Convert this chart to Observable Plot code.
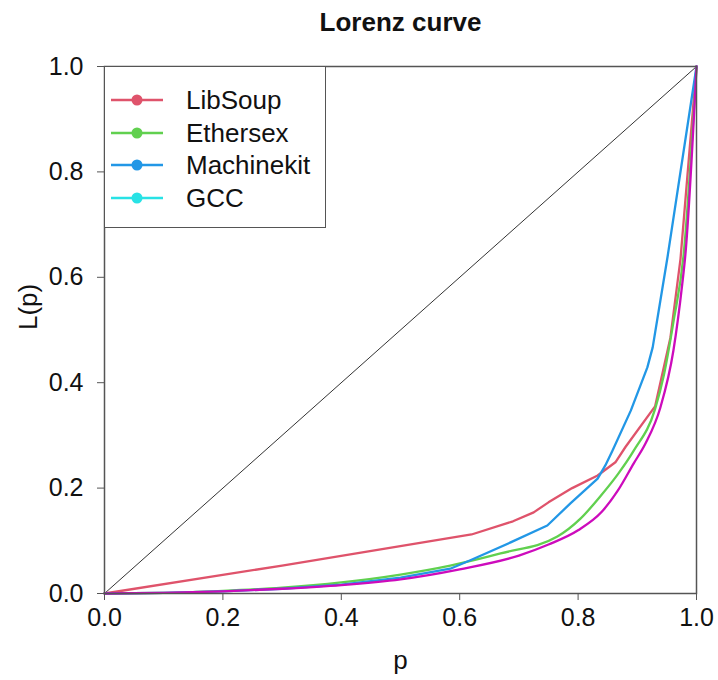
<!DOCTYPE html>
<html>
<head>
<meta charset="utf-8">
<script src="https://cdn.jsdelivr.net/npm/d3@7"></script>
<script src="https://cdn.jsdelivr.net/npm/@observablehq/plot@0.6"></script>
<style>
  html, body { margin: 0; padding: 0; background: white; }
  #wrap { position: relative; width: 718px; height: 680px; }
  #legend {
    position: absolute; left: 104px; top: 66px; width: 222px; height: 162px;
    border: 1.5px solid #555; background: white; box-sizing: border-box;
    font-family: "Liberation Sans", Arial, sans-serif; font-size: 26px; color: #111;
  }
  .item { position: absolute; left: 0; height: 30px; }
  .item svg { position: absolute; left: 5px; top: 0; }
  .item span { position: absolute; left: 81px; top: 0; line-height: 30px; white-space: nowrap; }
</style>
</head>
<body>
<div id="wrap"></div>
<script>
// ---- data ----
const seriesNames = ["LibSoup", "Ethersex", "Machinekit", "GCC"];
const legendColors = ["#DF536B", "#61D04F", "#2297E6", "#28E2E5"];
const lineColors = ["#DF536B", "#61D04F", "#2297E6", "#CD0BBC"];

const pLibSoup = [0, 0.3, 0.62, 0.69, 0.725, 0.75, 0.79, 0.833, 0.863, 0.88, 0.93, 0.956, 0.973, 1];
const LLibSoup = [0, 0.053, 0.112, 0.137, 0.154, 0.173, 0.2, 0.224, 0.249, 0.278, 0.355, 0.486, 0.635, 1];

const pEthersex = [0, 0.1, 0.2, 0.3, 0.4, 0.5, 0.584, 0.669, 0.765, 0.804, 0.838, 0.867, 0.894, 0.93, 0.945, 0.961, 0.978, 1];
const LEthersex = [0, 0.001, 0.005, 0.011, 0.021, 0.036, 0.053, 0.076, 0.108, 0.142, 0.185, 0.226, 0.271, 0.35, 0.415, 0.515, 0.64, 1];

const pMachinekit = [0, 0.1, 0.2, 0.3, 0.4, 0.5, 0.584, 0.618, 0.686, 0.748, 0.787, 0.833, 0.846, 0.858, 0.889, 0.917, 0.926, 0.939, 0.951, 1];
const LMachinekit = [0, 0.001, 0.004, 0.009, 0.017, 0.03, 0.047, 0.063, 0.097, 0.129, 0.171, 0.218, 0.243, 0.271, 0.347, 0.429, 0.467, 0.556, 0.638, 1];

const pGCC = [0, 0.1, 0.2, 0.3, 0.4, 0.5, 0.6, 0.7, 0.75, 0.8, 0.84, 0.867, 0.894, 0.914, 0.939, 0.961, 0.976, 0.981, 1];
const LGCC = [0, 0.001, 0.004, 0.009, 0.016, 0.027, 0.046, 0.072, 0.093, 0.12, 0.155, 0.195, 0.247, 0.285, 0.353, 0.461, 0.588, 0.64, 1];

const pDiag = [0, 1];
const LDiag = [0, 1];

const xTicks = [0, 0.2, 0.4, 0.6, 0.8, 1.0];
const yTicks = [0, 0.2, 0.4, 0.6, 0.8, 1.0];

const titleText = "Lorenz curve";
const xLabel = "p";
const yLabel = "L(p)";

// ---- build ----
const pAll = [pLibSoup, pEthersex, pMachinekit, pGCC];
const LAll = [LLibSoup, LEthersex, LMachinekit, LGCC];
const curves = ["linear", "monotone-x", "linear", "monotone-x"];
const rows = seriesNames.flatMap((s, k) => pAll[k].map((p, i) => ({series: s, p, L: LAll[k][i]})));
const diag = pDiag.map((p, i) => ({p, L: LDiag[i]}));
const fmt = d3.format(".1f");

const chart = Plot.plot({
  width: 718,
  height: 680,
  marginLeft: 104,
  marginRight: 22,
  marginTop: 66,
  marginBottom: 87,
  style: {fontFamily: "'Liberation Sans', Arial, sans-serif", fontSize: "25px", background: "white", color: "#111"},
  x: {domain: [0, 1]},
  y: {domain: [0, 1]},
  color: {domain: seriesNames, range: lineColors},
  marks: [
    Plot.line(diag, {x: "p", y: "L", stroke: "#333", strokeWidth: 1}),
    ...seriesNames.map((s, k) =>
      Plot.line(rows.filter(d => d.series === s), {x: "p", y: "L", stroke: "series", strokeWidth: 2.3, curve: curves[k]})
    ),
    Plot.frame({stroke: "#555", strokeWidth: 1.5}),
    Plot.axisX({ticks: xTicks, tickSize: 7, tickPadding: 8, tickFormat: fmt, label: null, fontSize: 25, stroke: "#555"}),
    Plot.axisY({ticks: yTicks, tickSize: 7, tickPadding: 14, tickFormat: fmt, label: null, fontSize: 25, stroke: "#555"}),
    Plot.text([titleText], {frameAnchor: "top", dy: -44, lineAnchor: "middle", fontWeight: "bold", fontSize: 26, fill: "#111"}),
    Plot.text([xLabel], {frameAnchor: "bottom", dy: 67, lineAnchor: "middle", fontSize: 26, fill: "#111"}),
    Plot.text([yLabel], {frameAnchor: "left", dx: -76, rotate: -90, fontSize: 26, fill: "#111"})
  ]
});
const wrap = document.getElementById("wrap");
wrap.appendChild(chart);

// legend (HTML overlay)
const legend = document.createElement("div");
legend.id = "legend";
seriesNames.forEach((name, i) => {
  const item = document.createElement("div");
  item.className = "item";
  item.style.top = (18 + i * 32.7) + "px";
  item.style.width = "220px";
  item.innerHTML = `<svg width="60" height="30"><line x1="1" y1="15" x2="53" y2="15" stroke="${legendColors[i]}" stroke-width="2.3"/><circle cx="27" cy="15" r="5.5" fill="${legendColors[i]}"/></svg><span>${name}</span>`;
  legend.appendChild(item);
});
wrap.appendChild(legend);
</script>
</body>
</html>
